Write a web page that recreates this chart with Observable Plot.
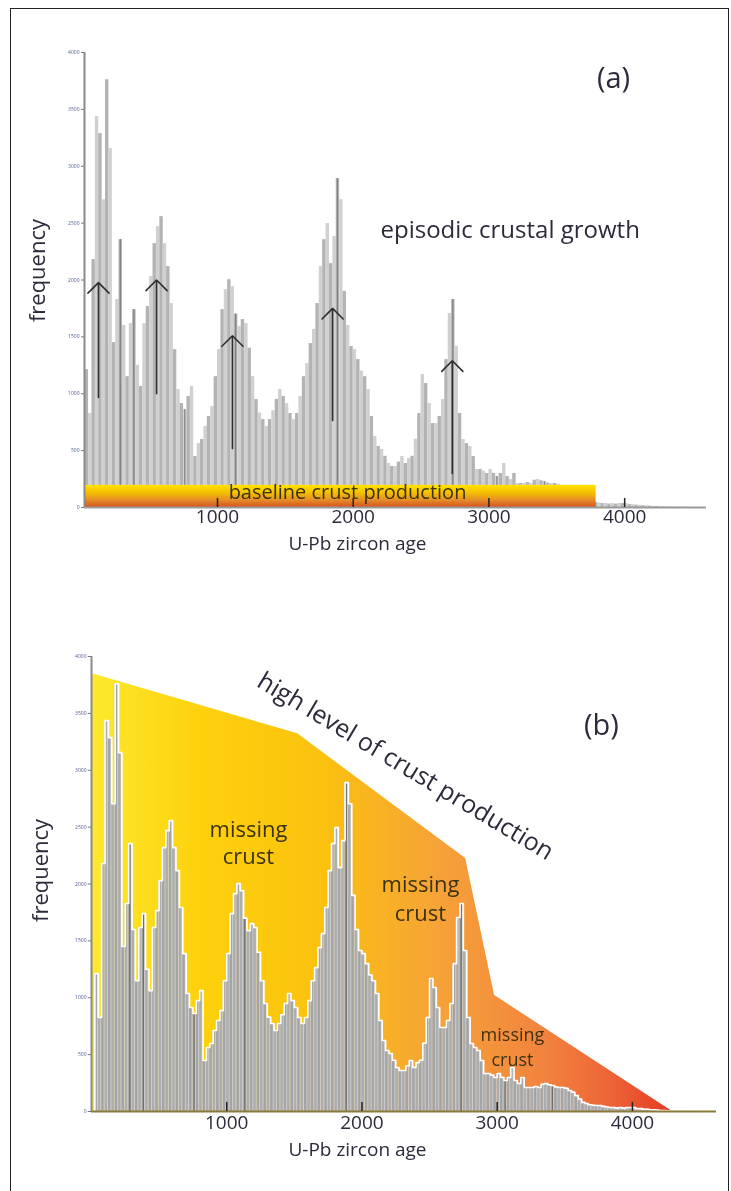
<!DOCTYPE html>
<html><head><meta charset="utf-8">
<script src="https://cdn.jsdelivr.net/npm/d3@7"></script>
<script src="https://cdn.jsdelivr.net/npm/@observablehq/plot@0.6"></script>
<style>
html,body{margin:0;padding:0;background:#fff;}
#page{position:relative;width:731px;height:1191px;overflow:hidden;font-family:"Open Sans", sans-serif;}
#frame{position:absolute;left:10px;top:8px;width:719px;height:1200px;border:1.5px solid #222;box-sizing:border-box;}
#pa{position:absolute;left:0;top:0;}
#pb{position:absolute;left:0;top:600px;}
svg{overflow:visible;font-family:"Open Sans", sans-serif;}
</style></head><body>
<div id="page"><div id="frame"></div><div id="pa"></div><div id="pb"></div></div>
<script>
// ---- data (U-Pb zircon age histogram, 25 Myr bins starting at 0) ----
const binWidth = 25;
const freq = [
  0, 1212, 826, 2180, 3436, 3287, 2706, 3761, 3155, 1450,
  1828, 2355, 1600, 1150, 1617, 1740, 1250, 1063, 1617, 1766,
  2030, 2320, 2469, 2557, 2320, 2118, 1793, 1388, 1037, 914,
  861, 975, 1063, 448, 562, 598, 712, 800, 887, 1150,
  1388, 1740, 1915, 2003, 1942, 1700, 1590, 1652, 1617, 1400,
  1150, 950, 830, 773, 712, 773, 850, 950, 1037, 975,
  914, 826, 773, 826, 975, 1150, 1265, 1441, 1564, 1793,
  2118, 2355, 2496, 2144, 2381, 2891, 2706, 1900, 1600, 1415,
  1388, 1300, 1200, 1150, 1037, 800, 624, 536, 510, 450,
  387, 360, 360, 400, 448, 387, 430, 450, 600, 826,
  1169, 1090, 914, 738, 738, 800, 949, 1300, 1705, 1828,
  1415, 826, 598, 562, 536, 448, 334, 334, 320, 299,
  334, 300, 272, 299, 387, 272, 246, 299, 211, 211,
  211, 220, 211, 240, 246, 235, 228, 215, 211, 211,
  205, 185, 170, 140, 110, 80, 70, 60, 55, 53,
  53, 45, 40, 35, 35, 30, 35, 30, 35, 35,
  35, 25, 25, 20, 20, 15, 15, 12, 9, 8,
  6, 5, 4, 3, 3, 2, 2, 1, 0, 0
];
const darkBins = [275, 375, 750, 1125, 1875, 2725, 3050, 3400];
const xTicks = [1000, 2000, 3000, 4000];
const yTicks = [0, 500, 1000, 1500, 2000, 2500, 3000, 3500, 4000];
// arrows of episodic growth (panel a)
const arrowAge  = [123, 551, 1110, 1848, 2730];
const arrowBase = [967, 1000, 518, 765, 300];
const arrowTip  = [1977, 2000, 1510, 1750, 1290];
// baseline crust production band (panel a)
const baselineEnd = 3790;
const baselineLevel = 195;
// envelope of high crust production (panel b)
const envAge  = [0, 1525, 2767, 2981, 4296];
const envFreq = [3850, 3320, 2225, 1020, 0];

// ---- derived tables ----
const bins = freq.map((f, i) => ({age: i * binWidth, freq: f, odd: i % 2 === 1, dark: darkBins.includes(i * binWidth)}));
const stepLine = [...bins, {age: bins.length * binWidth, freq: 0}];
const arrows = arrowAge.map((a, i) => ({age: a, base: arrowBase[i], tip: arrowTip[i]}));
const envelope = envAge.map((a, i) => ({age: a, freq: envFreq[i]}));

const FONT = "'Open Sans', sans-serif";
const txtCol = "#2b2b3b";

function gradDefs(id, vertical, stops) {
  return () => {
    const d = d3.create("svg:defs");
    const g = d.append("linearGradient").attr("id", id)
      .attr("x1", 0).attr("y1", 0).attr("x2", vertical ? 0 : 1).attr("y2", vertical ? 1 : 0);
    stops.forEach(([o, c]) => g.append("stop").attr("offset", o).attr("stop-color", c));
    return d.node();
  };
}

function axesMarks(x0, tickLen, xLabelX, xLabelDy, tickDy, freqY, freqDx, lineCol) {
  return [
    Plot.ruleY(yTicks, {y: d => d, x1: x0 - tickLen, x2: x0, stroke: "#777", strokeWidth: 1}),
    Plot.text(yTicks, {y: d => d, text: d => String(d), frameAnchor: "left", dx: -5, textAnchor: "end", fontSize: 5, fill: "#4c5a8c"}),
    Plot.ruleX([x0], {stroke: "#8a8a8a", strokeWidth: 2}),
    Plot.ruleY([0], {stroke: lineCol, strokeWidth: 2}),
    Plot.ruleX(xTicks, {x: d => d, y1: 0, y2: 80, stroke: "#222", strokeWidth: 1.5}),
    Plot.text(xTicks, {x: d => d, text: d => String(d), frameAnchor: "bottom", dy: tickDy, fontSize: 19, fill: txtCol}),
    Plot.text(["U-Pb zircon age"], {x: xLabelX, text: d => d, frameAnchor: "bottom", dy: xLabelDy, fontSize: 19, fill: txtCol}),
    Plot.text(["frequency"], {y: freqY, text: d => d, frameAnchor: "left", textAnchor: "middle", dx: freqDx, rotate: -90, fontSize: 22, fill: txtCol})
  ];
}

// ---- panel (a) ----
const xa0 = 20;
const plotA = Plot.plot({
  width: 731, height: 560,
  marginLeft: 84, marginRight: 25, marginTop: 52, marginBottom: 53,
  x: {domain: [xa0, 4603], axis: null},
  y: {domain: [0, 4000], axis: null},
  style: {fontFamily: FONT, background: "transparent", overflow: "visible"},
  marks: [
    gradDefs("bandGrad", true, [[0, "#ffe400"], [0.35, "#f4c000"], [0.7, "#e48a2a"], [1, "#d4521e"]]),
    Plot.rectY(bins, {x1: "age", x2: d => d.age + binWidth, y: "freq", fill: d => d.odd ? "#b3b3b3" : "#d0d0d0", clip: true}),
    Plot.rectY(bins.filter(d => d.dark), {x1: d => d.age + 8, x2: d => d.age + 17, y: "freq", fill: "#808080", clip: true}),
    Plot.rect([{x1: 0, x2: baselineEnd, y1: 0, y2: baselineLevel}], {x1: "x1", x2: "x2", y1: "y1", y2: "y2", fill: "url(#bandGrad)", mixBlendMode: "multiply", clip: true}),
    Plot.arrow(arrows, {x1: "age", x2: "age", y1: "base", y2: "tip", stroke: "#2e2e2e", strokeWidth: 1.6, headAngle: 90, headLength: 14}),
    Plot.text(["baseline crust production"], {x: 1958, y: 132, text: d => d, fontSize: 20, fill: "#3a3200"}),
    Plot.text(["episodic crustal growth"], {x: 2201, y: 2435, text: d => d, textAnchor: "start", fontSize: 24, fill: txtCol}),
    Plot.text(["(a)"], {x: 3918, y: 3771, text: d => d, fontSize: 29, fill: txtCol}),
    ...axesMarks(xa0, 22, 2031, 42, 15, 2083, -47, "#9a9a9a")
  ]
});
document.getElementById("pa").appendChild(plotA);

// ---- panel (b) ----
const xb0 = 0;
const plotB = Plot.plot({
  width: 731, height: 591,
  marginLeft: 91, marginRight: 15, marginTop: 56, marginBottom: 80,
  x: {domain: [xb0, 4622], axis: null},
  y: {domain: [0, 4000], axis: null},
  style: {fontFamily: FONT, background: "transparent", overflow: "visible"},
  marks: [
    gradDefs("envGrad", false, [[0, "#fde92e"], [0.18, "#fdd20c"], [0.4, "#fbc10f"], [0.6, "#f6a238"], [0.78, "#f2833e"], [0.9, "#ed6236"], [1, "#e53a22"]]),
    Plot.areaY(envelope, {x: "age", y: "freq", fill: "url(#envGrad)"}),
    Plot.rectY(bins, {x1: "age", x2: d => d.age + binWidth, y: "freq", fill: "#d6d6d6"}),
    Plot.rectY(bins, {x1: "age", x2: d => d.age + binWidth, y: "freq", fill: d => d.odd ? "#a4a4a4" : "#adadad", insetRight: 0.8}),
    Plot.rectY(bins.filter(d => d.dark), {x1: d => d.age + 8, x2: d => d.age + 17, y: "freq", fill: "#6e6e6e"}),
    Plot.line(stepLine, {x: "age", y: "freq", curve: "step-after", stroke: "white", strokeWidth: 1.6}),
    Plot.text(["high level of crust production"], {x: 2322, y: 3033, text: d => d, rotate: 31, fontSize: 25, fill: txtCol}),
    Plot.text(["missing\ncrust"], {x: 1161, y: 2374, text: d => d, fontSize: 22, lineHeight: 1.25, fill: "#3d3210"}),
    Plot.text(["missing\ncrust"], {x: 2433, y: 1881, text: d => d, fontSize: 22, lineHeight: 1.3, fill: "#3d3210"}),
    Plot.text(["missing\ncrust"], {x: 3113, y: 580, text: d => d, fontSize: 18, lineHeight: 1.4, fill: "#3d3210"}),
    Plot.text(["(b)"], {x: 3771, y: 3393, text: d => d, fontSize: 29, fill: txtCol}),
    ...axesMarks(xb0, 24, 1967, 44, 17, 2119, -51, "#8a7a3a")
  ]
});
document.getElementById("pb").appendChild(plotB);
</script>
</body></html>
